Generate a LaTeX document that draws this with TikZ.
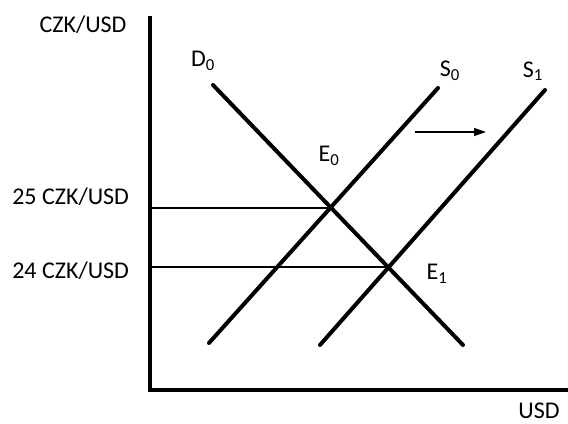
\documentclass[tikz,border=0pt]{standalone}
\usepackage{fontspec}
\setmainfont{Carlito}
\usetikzlibrary{arrows.meta}

\begin{document}
\begin{tikzpicture}[x=0.75pt,y=-0.75pt,
  curve/.style={line width=3pt, line cap=round},
  axis/.style={line width=3pt},
  level/.style={line width=0.9pt},
  lbl/.style={font=\fontsize{18}{21}\selectfont, inner sep=0pt}]
\useasboundingbox (0,0) rectangle (568,424);
% axes
\coordinate (top) at (150,16);
\coordinate (orig) at (150,390);
\coordinate (right) at (568,390);
\draw[axis] (top) -- (orig) -- (right);
% curve ends
\coordinate (d0a) at (213,85);
\coordinate (d0b) at (463,345);
\coordinate (s0a) at (209,343);
\coordinate (s0b) at (438,88);
\coordinate (s1a) at (320,345);
\coordinate (s1b) at (545,90);
\coordinate (e0) at (330,208);
\coordinate (e1) at (388,267);
\coordinate (y25) at (150,208);
\coordinate (y24) at (150,267);
\draw[curve] (d0a) -- (d0b);
\draw[curve] (s0a) -- (s0b);
\draw[curve] (s1a) -- (s1b);
\draw[level] (y25) -- (e0);
\draw[level] (y24) -- (e1);
% shift
\coordinate (sh0) at (415,132);
\coordinate (sh1) at (486,132);
\draw[level, -{Triangle[length=9pt,width=6pt]}] (sh0) -- (sh1);
% labels
\node[lbl] (ylab) at (83,25) {CZK/USD};
\node[lbl, anchor=base] (xlab) at (539,418) {USD};
\node[lbl, anchor=west] (p25) at (12,197) {25 CZK/USD};
\node[lbl, anchor=west] (p24) at (12,271) {24 CZK/USD};
\node[lbl] (D0) at (203,61) {D\textsubscript{0}};
\node[lbl] (S0) at (450,71) {S\textsubscript{0}};
\node[lbl] (S1) at (533,71) {S\textsubscript{1}};
\node[lbl] (E0) at (329,156) {E\textsubscript{0}};
\node[lbl] (E1) at (437,274) {E\textsubscript{1}};
\end{tikzpicture}
\end{document}
